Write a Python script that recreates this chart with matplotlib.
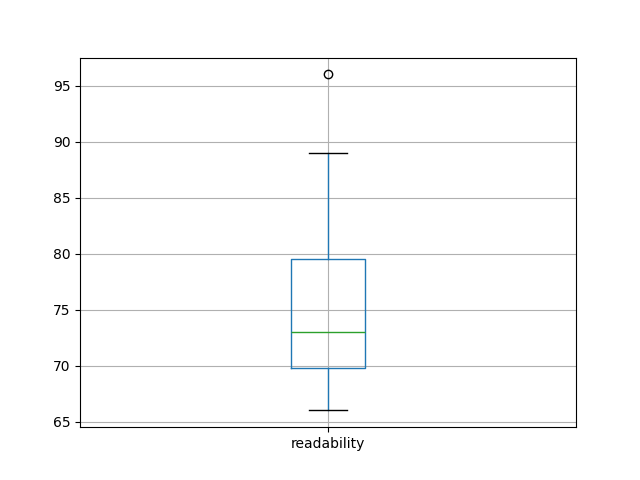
import matplotlib
matplotlib.use("Agg")
import matplotlib.pyplot as plt

# summary stats
label = "readability"
whisker_low = 66.0
q1 = 69.8
median = 73.0
q3 = 79.5
whisker_high = 89.0
outliers = [96.0]

stats = [{
    "label": label,
    "whislo": whisker_low,
    "q1": q1,
    "med": median,
    "q3": q3,
    "whishi": whisker_high,
    "fliers": outliers,
}]

fig, ax = plt.subplots(figsize=(6.4, 4.8), dpi=100)
ax.bxp(
    stats,
    boxprops=dict(color="#1f77b4"),
    whiskerprops=dict(color="#1f77b4"),
    medianprops=dict(color="#2ca02c"),
    capprops=dict(color="k"),
)
ax.grid(True)
ax.set_axisbelow(True)
fig.savefig("out.png")
